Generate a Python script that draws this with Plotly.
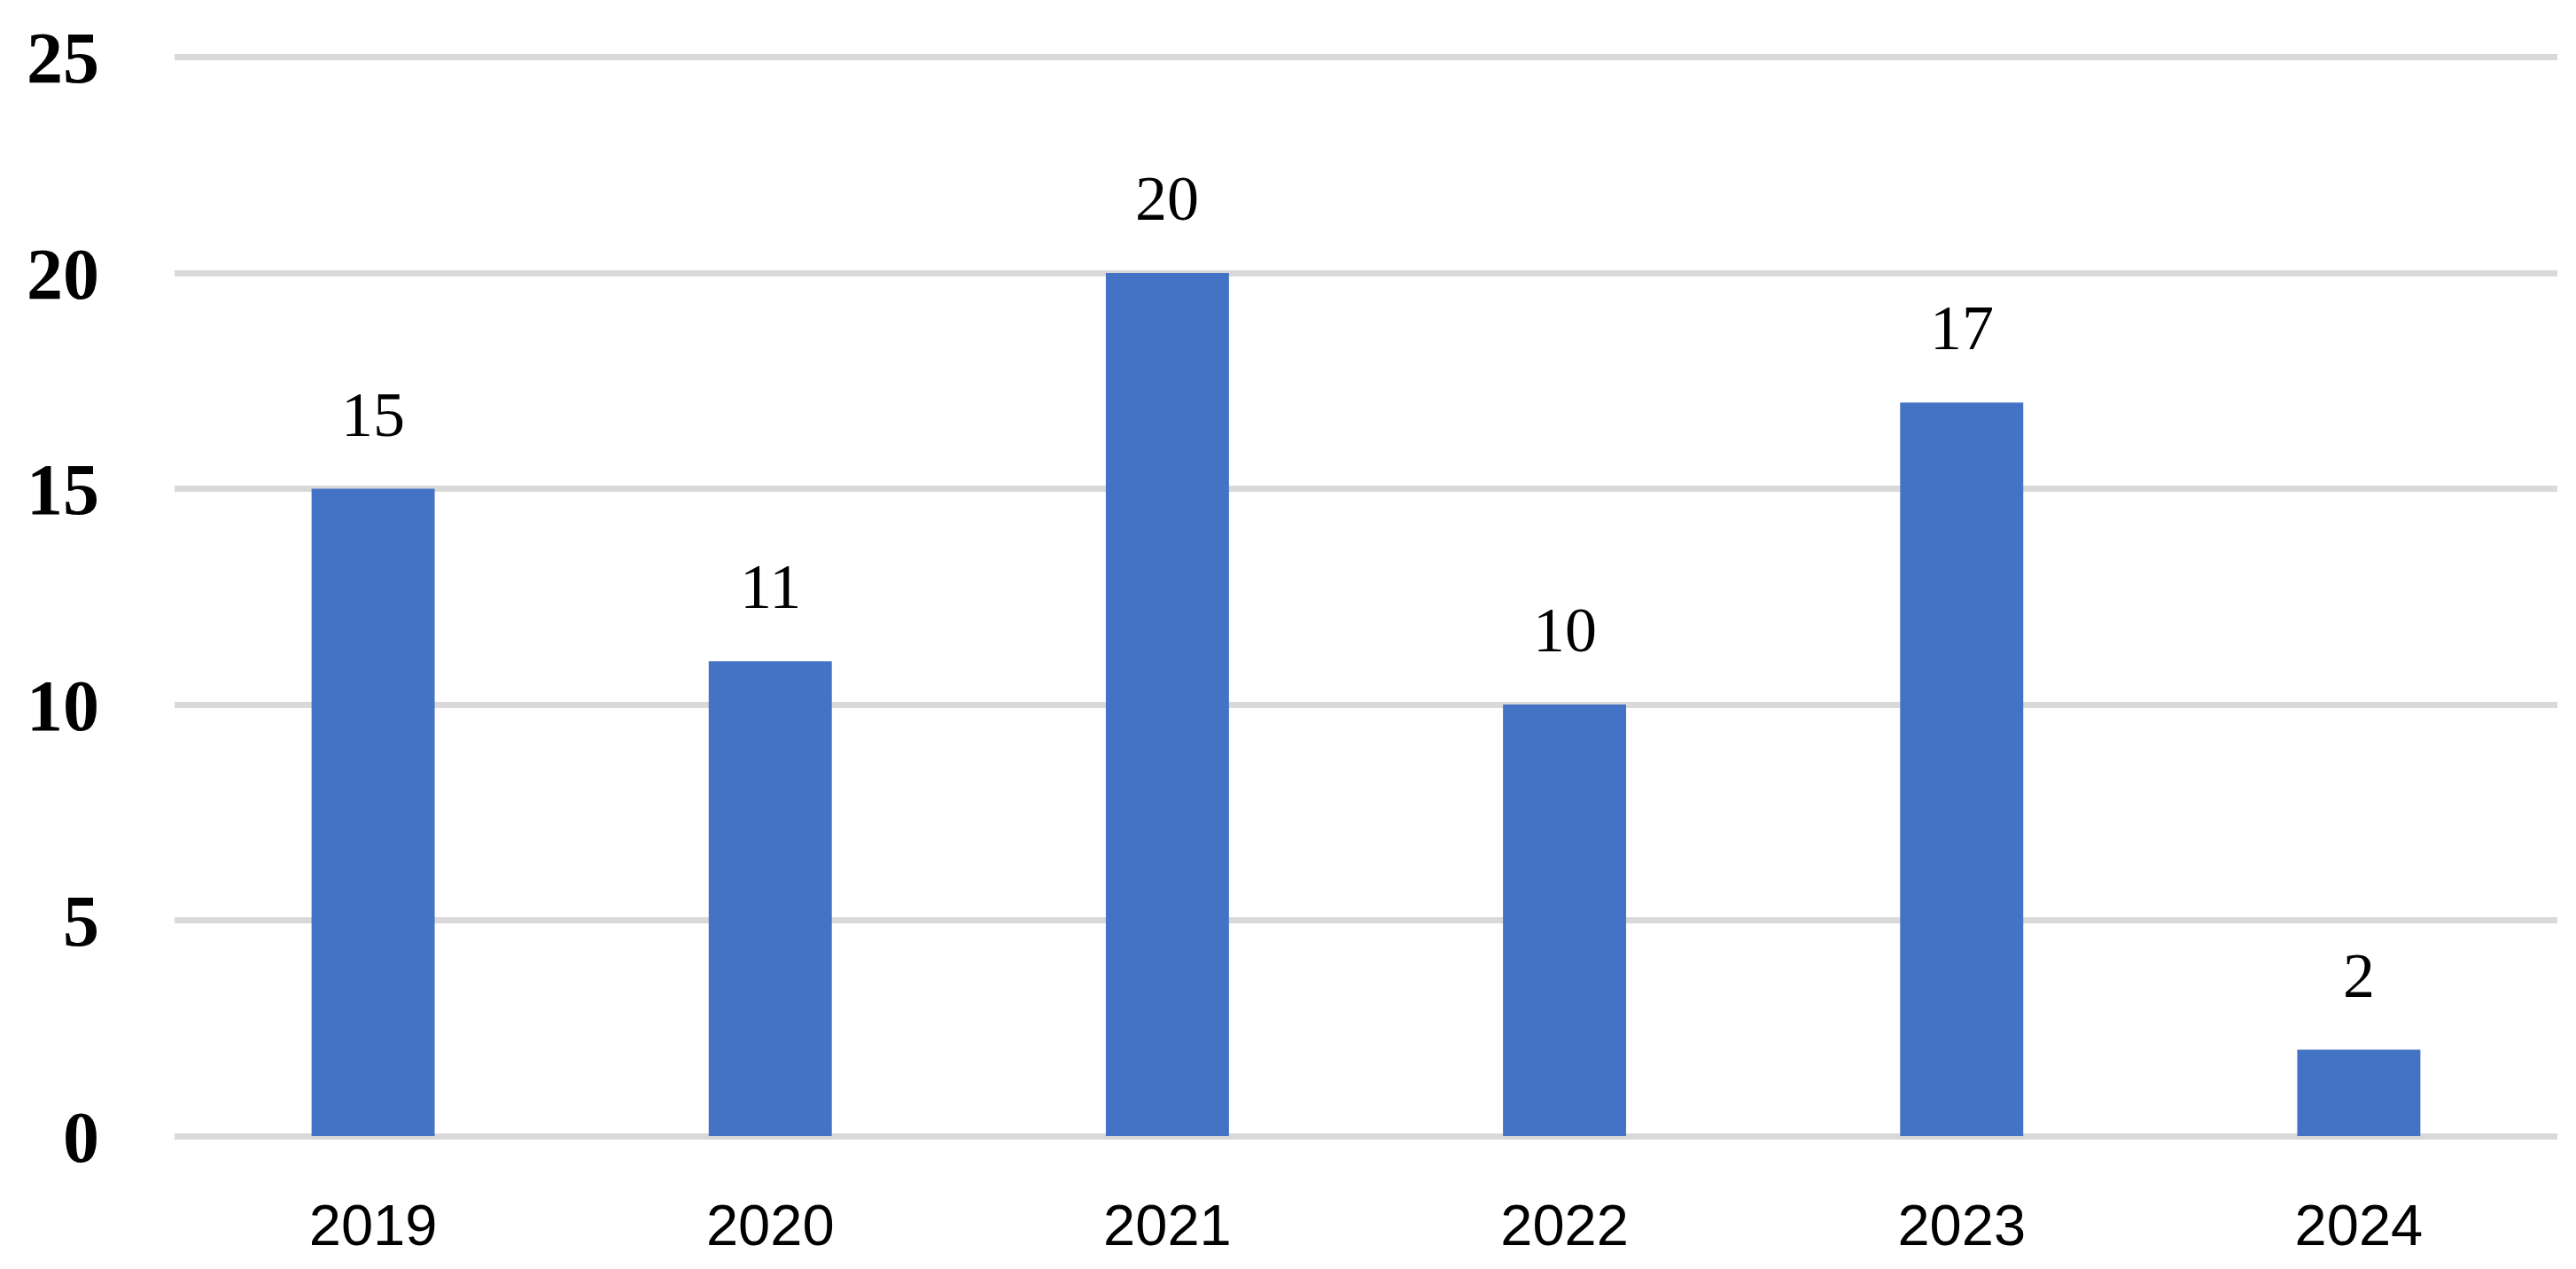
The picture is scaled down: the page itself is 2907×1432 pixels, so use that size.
import plotly.graph_objects as go

# values
years = ['2019', '2020', '2021', '2022', '2023', '2024']
counts = [15, 11, 20, 10, 17, 2]
y_ticks = [0, 5, 10, 15, 20, 25]

BAR_BLUE = '#4472C4'
GRID_GREY = '#D9D9D9'

fig = go.Figure()

fig.add_trace(go.Bar(
    x=years,
    y=counts,
    marker=dict(color=BAR_BLUE, line=dict(width=0)),
    showlegend=False,
    hoverinfo='x+y'
))

# value labels sit a bit above each bar
# (category index as x, year strings would be read as numbers)
for i, val in enumerate(counts):
    fig.add_annotation(
        x=i, y=val,
        text=str(val),
        showarrow=False,
        yanchor='bottom',
        yshift=42,
        font=dict(family='Liberation Serif, Times New Roman, serif', size=72, color='black')
    )

fig.update_layout(
    width=2907,
    height=1432,
    autosize=False,
    margin=dict(l=189, r=29, t=42, b=158),
    plot_bgcolor='white',
    paper_bgcolor='white',
    bargap=0.69,
    xaxis=dict(
        type='category',
        range=[-0.5, len(years) - 0.5],
        showgrid=False,
        showline=False,
        ticks='',
        tickfont=dict(family='Liberation Sans, Arial, sans-serif', size=65, color='black'),
        ticklabelstandoff=57
    ),
    yaxis=dict(
        # a little headroom so the 25 gridline is still drawn
        range=[0, 25.3],
        tickvals=y_ticks,
        showgrid=True,
        gridcolor=GRID_GREY,
        gridwidth=7,
        zeroline=True,
        zerolinecolor=GRID_GREY,
        zerolinewidth=7,
        showline=False,
        ticks='',
        tickfont=dict(family='Liberation Serif, Times New Roman, serif', size=82, color='black',
                      weight='bold'),
        ticklabelstandoff=84
    )
)

fig.write_html("out.html")
